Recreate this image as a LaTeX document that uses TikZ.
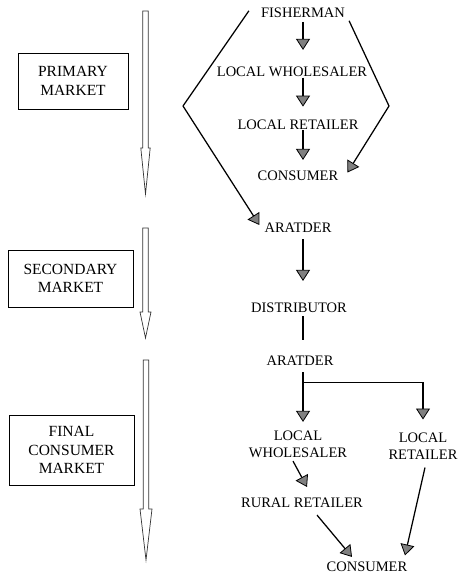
\documentclass[tikz,border=0pt]{standalone}
\usepackage{fontspec}
\setmainfont{Liberation Serif}
\usetikzlibrary{arrows.meta,calc}
\tikzset{
  lbl/.style={inner sep=0pt, font=\fontsize{14.5}{17}\selectfont, align=center},
  mkt/.style={draw, line width=0.9pt, inner sep=0pt, font=\fontsize{15.5}{18.5}\selectfont, align=center},
  conn/.style={line width=1.25pt},
  arr/.style={conn, -{Triangle[length=11pt,width=14pt,fill=black!50,line width=0.8pt]}},
  hollow/.style={draw=black!80, line width=0.7pt, line join=miter}
}
\begin{document}
\begin{tikzpicture}[x=1pt,y=-1pt]
\useasboundingbox (0,0) rectangle (463,573);
% market boxes
\node[mkt, minimum width=110pt, minimum height=56pt] (box1) at (73,81) {PRIMARY\\MARKET};
\node[mkt, minimum width=125pt, minimum height=57pt] (box2) at (70.5,278.5) {SECONDARY\\MARKET};
\node[mkt, minimum width=125pt, minimum height=70pt] (box3) at (71.5,450) {FINAL\\CONSUMER\\MARKET};
% hollow arrows
\draw[hollow] (142.8,11) -- (148.2,11) -- (148.2,148) -- (150.2,148) -- (145.5,194) -- (140.8,148) -- (142.8,148) -- cycle;
\draw[hollow] (142.8,228) -- (148.2,228) -- (148.2,312) -- (151,312) -- (145.5,338) -- (140,312) -- (142.8,312) -- cycle;
\draw[hollow] (143.3,360) -- (148.7,360) -- (148.7,509) -- (152,509) -- (146,560) -- (140,509) -- (143.3,509) -- cycle;
% labels
\node[lbl] (fish) at (303,12.8) {FISHERMAN};
\node[lbl] (lw1) at (292,71.5) {LOCAL WHOLESALER};
\node[lbl] (lr1) at (298,124.7) {LOCAL RETAILER};
\node[lbl] (con1) at (298,175.5) {CONSUMER};
\node[lbl] (ar1) at (298,228) {ARATDER};
\node[lbl] (dist) at (299,307.5) {DISTRIBUTOR};
\node[lbl] (ar2) at (300,361) {ARATDER};
\node[lbl] (lw2) at (298,444.5) {LOCAL\\WHOLESALER};
\node[lbl] (lr2) at (423,446) {LOCAL\\RETAILER};
\node[lbl] (rr) at (302,503) {RURAL RETAILER};
\node[lbl] (con2) at (367,566.5) {CONSUMER};
% corners
\coordinate (cL) at (183,106);
\coordinate (cR) at (389,106);
\coordinate (br) at (303,382.5);
% primary market chain
\draw[arr, shorten <=4pt, shorten >=16.5pt] (fish.south) -- (fish.south |- lw1.north);
\draw[arr, shorten <=1pt, shorten >=13pt] (fish.south |- lw1.south) -- (fish.south |- lr1.north);
\draw[arr, shorten <=0.5pt, shorten >=10.5pt] (fish.south |- lr1.south) -- (fish.south |- con1.north);
\draw[conn] ($(fish.west)+(-12,-2)$) -- (cL);
\draw[arr] (cL) -- ($(ar1.west)+(-5,-3)$);
\draw[conn] ($(fish.east)+(4,8)$) -- (cR);
\draw[arr] (cR) -- ($(con1.east)+(9,-3)$);
% secondary market
\draw[arr, shorten <=6pt, shorten >=21.5pt] (fish.south |- ar1.south) -- (fish.south |- dist.north);
\draw[conn, shorten <=3.7pt, shorten >=16pt] (fish.south |- dist.south) -- (fish.south |- ar2.north);
% final consumer market
\draw[arr, shorten <=6pt, shorten >=9pt] (fish.south |- ar2.south) -- (fish.south |- lw2.north);
\draw[arr, shorten >=13pt, line join=miter] (br) -- (br -| 423,0) -- (423,0 |- lr2.north);
\draw[arr] ($(lw2.south)+(-5,3)$) -- ($(rr.north)+(5,-11)$);
\draw[arr] ($(rr.south)+(15,7)$) -- ($(con2.north)+(-15,-4.5)$);
\draw[arr] ($(lr2.south)+(2,8)$) -- ($(con2.north)+(38,-6)$);
\end{tikzpicture}
\end{document}
